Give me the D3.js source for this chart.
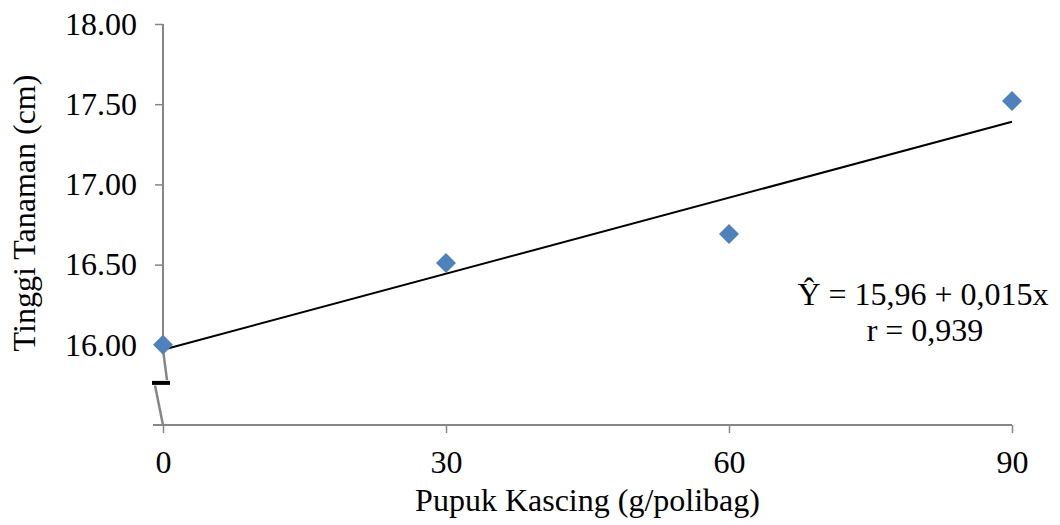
<!DOCTYPE html>
<html>
<head>
<meta charset="utf-8">
<script src="https://cdn.jsdelivr.net/npm/d3@7"></script>
<style>
  body { margin: 0; background: #fff; }
  text { font-family: "Liberation Serif", "Times New Roman", serif; fill: #000; }
</style>
</head>
<body>
<div id="chart"></div>
<script>
// data
var dosis = [0, 30, 60, 90];
var tinggi = [16.00, 16.51, 16.69, 17.52];
var yTicks = [16.00, 16.50, 17.00, 17.50, 18.00];
var xTicks = [0, 30, 60, 90];
var persamaan = ["\u0176 = 15,96 + 0,015x", "r = 0,939"];

var svgWidth = 1060;
var svgHeight = 525;
var fs = 32;

var svg = d3.select("#chart")
  .append("svg")
  .attr("width", svgWidth)
  .attr("height", svgHeight);

var x = d3.scaleLinear().domain([0, 90]).range([163, 1012]);
var y = d3.scaleLinear().domain([15.5, 18]).range([425, 24]);

var axisColor = "#868686";

// x axis
var bottomAxis = d3.axisBottom(x)
  .tickValues(xTicks)
  .tickSize(8)
  .tickPadding(17)
  .tickFormat(d3.format("d"));

var gx = svg.append("g")
  .attr("transform", `translate(0, ${y(15.5)})`)
  .call(bottomAxis);
gx.select(".domain").attr("stroke", axisColor).attr("stroke-width", 2).attr("d", `M${x(0) - 10},0H${x(90)}`);
gx.selectAll(".tick line").attr("stroke", axisColor).attr("stroke-width", 1.5);
gx.selectAll(".tick text").attr("font-size", fs).attr("font-family", "Liberation Serif");

// y axis (upper part)
var leftAxis = d3.axisLeft(y)
  .tickValues(yTicks)
  .tickSize(8)
  .tickPadding(18)
  .tickFormat(d3.format(".2f"));

var gy = svg.append("g")
  .attr("transform", `translate(${x(0)}, 0)`)
  .call(leftAxis);
gy.select(".domain").attr("stroke", axisColor).attr("stroke-width", 2)
  .attr("d", `M0,${y(18)}V${y(15.97)}`);
gy.selectAll(".tick line").attr("stroke", axisColor).attr("stroke-width", 1.5);
gy.selectAll(".tick text").attr("font-size", fs).attr("font-family", "Liberation Serif");

// axis break
var brk = svg.append("g");
brk.append("path")
  .attr("d", `M${x(0)},${y(15.97)}L${x(0) + 4},${y(15.78)}`)
  .attr("stroke", axisColor).attr("stroke-width", 2.5).attr("fill", "none");
brk.append("path")
  .attr("d", `M${x(0) - 8},${y(15.747)}L${x(0)},${y(15.5)}`)
  .attr("stroke", axisColor).attr("stroke-width", 2.5).attr("fill", "none");
brk.append("rect")
  .attr("x", x(0) - 11).attr("y", y(15.775))
  .attr("width", 18).attr("height", 4)
  .attr("fill", "#000");

// trend line (least squares)
var mx = d3.mean(dosis), my = d3.mean(tinggi);
var sxy = d3.sum(dosis, (d, i) => (d - mx) * (tinggi[i] - my));
var sxx = d3.sum(dosis, d => (d - mx) * (d - mx));
var b = sxy / sxx, a = my - b * mx;

svg.append("line")
  .attr("x1", x(0)).attr("y1", y(a))
  .attr("x2", x(90)).attr("y2", y(a + b * 90))
  .attr("stroke", "#000").attr("stroke-width", 2);

// points
var pts = dosis.map((d, i) => ({ x: d, y: tinggi[i] }));
svg.selectAll(".pt")
  .data(pts)
  .enter()
  .append("path")
  .attr("class", "pt")
  .attr("d", d3.symbol().type(d3.symbolSquare).size(200))
  .attr("transform", d => `translate(${x(d.x)}, ${y(d.y)}) rotate(45)`)
  .attr("fill", "#4F81BD");

// equation
svg.append("text")
  .attr("x", 923).attr("y", 305)
  .attr("text-anchor", "middle")
  .attr("font-size", fs)
  .text(persamaan[0]);
svg.append("text")
  .attr("x", 925).attr("y", 341)
  .attr("text-anchor", "middle")
  .attr("font-size", fs)
  .text(persamaan[1]);

// axis titles
svg.append("text")
  .attr("x", (x(0) + x(90)) / 2).attr("y", 511)
  .attr("text-anchor", "middle")
  .attr("font-size", fs)
  .text("Pupuk Kascing (g/polibag)");

svg.append("text")
  .attr("transform", `translate(35, 213) rotate(-90)`)
  .attr("text-anchor", "middle")
  .attr("font-size", fs)
  .text("Tinggi Tanaman (cm)");
</script>
</body>
</html>
